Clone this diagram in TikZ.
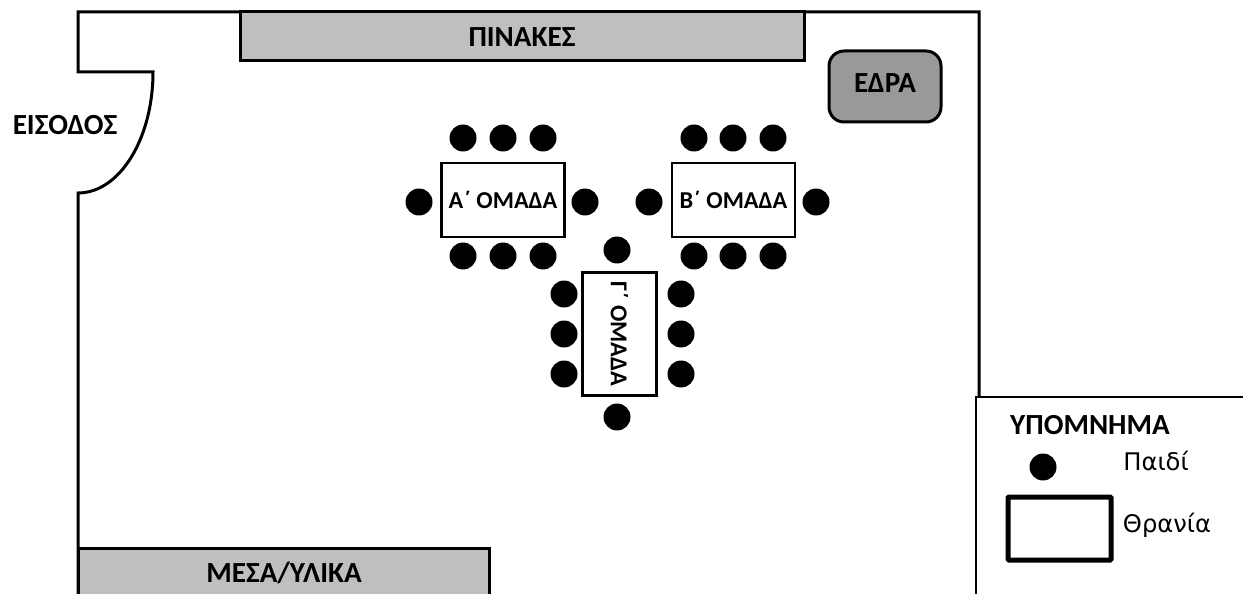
\documentclass[tikz,border=0pt]{standalone}
\usepackage{fontspec}
\setmainfont{Carlito}
\newfontfamily\legendfont{DejaVu Sans}
\tikzset{
  wall/.style={line width=0.06cm, black},
  kid/.style={circle, fill=black, inner sep=0pt, minimum size=0.54cm},
  desk/.style={draw=black, line width=0.045cm, fill=white, inner sep=0pt, minimum width=2.46cm, minimum height=1.48cm, font=\bfseries\fontsize{13.8}{15}\selectfont},
  bench/.style={draw=black, line width=0.06cm, fill=black!25},
  caption/.style={font=\bfseries\fontsize{16.6}{18}\selectfont, inner sep=0pt},
  legendtext/.style={font=\legendfont\fontsize{13.8}{15}\selectfont, inner sep=0pt}
}
\begin{document}
\begin{tikzpicture}[x=0.02cm, y=-0.02cm]
\useasboundingbox (0,0) rectangle (1243,594);

%room
\draw[wall] (78,600) -- (78,193) arc[start angle=270, end angle=360, x radius=75, y radius=-121] -- (78,72) -- (78,12) -- (979,12) -- (979,397);

%furniture
\draw[bench] (240,12) rectangle (804,61);
\draw[bench] (78,548) rectangle (489,600);
\draw[bench, fill=black!40, rounded corners=0.3cm] (829,51) rectangle (941,122);
\node[caption] (pinakes) at (522,37) {ΠΙΝΑΚΕΣ};
\node[caption] (mesa) at (284,573) {ΜΕΣΑ/ΥΛΙΚΑ};
\node[caption] (edra) at (885,83) {ΕΔΡΑ};
\node[caption] (eisodos) at (65,125) {ΕΙΣΟΔΟΣ};

%desks
\node[desk] (deskA) at (503,200) {Α΄ ΟΜΑΔΑ};
\node[desk] (deskB) at (733.5,200) {Β΄ ΟΜΑΔΑ};
\node[desk, rotate=-90] (deskC) at (619.5,334) {Γ΄ ΟΜΑΔΑ};

%group A
\node[kid] (a1) at (463,138) {};
\node[kid] (a2) at (503,138) {};
\node[kid] (a3) at (543,138) {};
\node[kid] (a4) at (463,256) {};
\node[kid] (a5) at (503,256) {};
\node[kid] (a6) at (543,256) {};
\node[kid] (a7) at (419,202) {};
\node[kid] (a8) at (585,202) {};

%group B
\node[kid] (b1) at (694,138) {};
\node[kid] (b2) at (733,138) {};
\node[kid] (b3) at (773,138) {};
\node[kid] (b4) at (694,256) {};
\node[kid] (b5) at (733,256) {};
\node[kid] (b6) at (773,256) {};
\node[kid] (b7) at (649,202) {};
\node[kid] (b8) at (816,202) {};

%group C
\node[kid] (c1) at (564,294) {};
\node[kid] (c2) at (564,334) {};
\node[kid] (c3) at (564,374) {};
\node[kid] (c4) at (681,294) {};
\node[kid] (c5) at (681,334) {};
\node[kid] (c6) at (681,374) {};
\node[kid] (c7) at (617,250) {};
\node[kid] (c8) at (617,417) {};

%legend
\draw[line width=0.045cm] (976,600) -- (976,397) -- (1243,397);
\node[caption] (legendtitle) at (1090,425) {ΥΠΟΜΝΗΜΑ};
\node[kid] (legendkid) at (1043,467) {};
\draw[line width=0.1cm, rounded corners=0.02cm] (1008,497) rectangle (1111,560);
\node[legendtext] (kidlabel) at (1156,461) {Παιδί};
\node[legendtext] (desklabel) at (1167,525) {Θρανία};

\end{tikzpicture}
\end{document}
